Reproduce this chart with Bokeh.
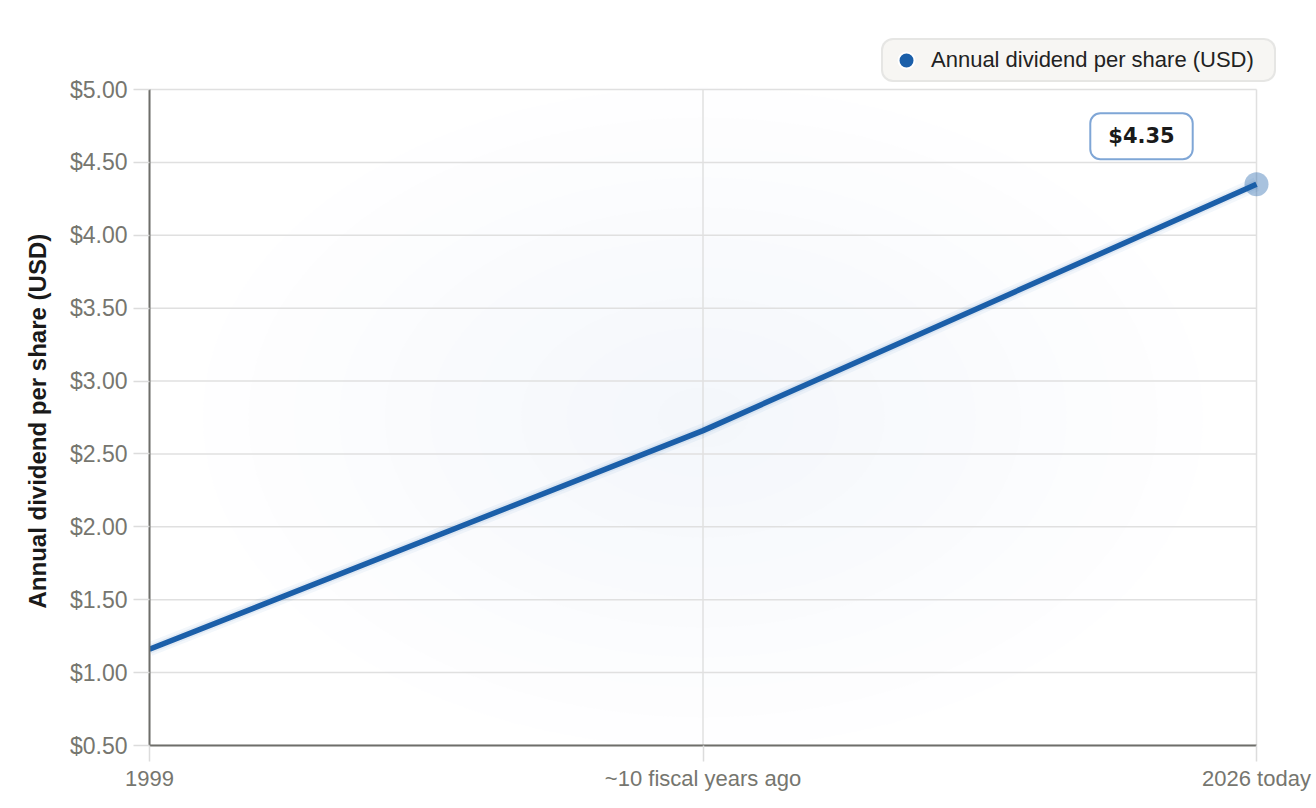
from bokeh.plotting import figure
from bokeh.models import (Range1d, FixedTicker, NumeralTickFormatter, Label,
                          Legend, LegendItem, ColumnDataSource, Title)
from bokeh.embed import file_html
from bokeh.resources import INLINE

# ---- data ----
categories = ["1999", "~10 fiscal years ago", "2026 today"]
dividends = [1.16, 2.66, 4.35]
y_ticks = [0.5, 1.0, 1.5, 2.0, 2.5, 3.0, 3.5, 4.0, 4.5, 5.0]
series_name = "Annual dividend per share (USD)"

LINE = "#1b5fa9"
FONT = "Liberation Sans"
GRID = "#e0e0e0"
# background tint rings (outer to inner), each darkens by at most one level
TINT = ["#cdcdff", "#cdcdcd", "#cdffff", "#cdcdff", "#cdcdcd", "#cdcdff",
        "#cdffff", "#cdcdcd", "#cdcdff", "#cdffff", "#cdcdcd"]

# ---- layout (pixels) ----
W, H = 1316, 808
PLOT_L, PLOT_R, PLOT_T, PLOT_B = 149, 1256, 89, 745     # data area
FRAME_R, FRAME_T = 1300, 30                               # frame incl. legend room

xs = list(range(len(categories)))
src = ColumnDataSource(dict(x=xs, y=dividends))

x0, x1 = xs[0], xs[-1]
y0, y1 = y_ticks[0], y_ticks[-1]
x_end = x1 + (x1 - x0) * (FRAME_R - PLOT_R) / (PLOT_R - PLOT_L)
y_end = y1 + (y1 - y0) * (PLOT_T - FRAME_T) / (PLOT_B - PLOT_T)

p = figure(width=W, height=H, output_backend="svg", toolbar_location=None,
           x_range=Range1d(x0, x_end), y_range=Range1d(y0, y_end),
           min_border_left=PLOT_L, min_border_right=W - FRAME_R,
           min_border_top=FRAME_T, min_border_bottom=H - PLOT_B)
p.outline_line_color = None
p.background_fill_color = "white"
p.border_fill_color = "white"
p.xgrid.visible = False
p.ygrid.visible = False

# soft radial tint in the middle of the plot
cx = (x0 + x1) / 2
cy = (y0 + y1) / 2
n_rings = len(TINT)
for i, col in enumerate(TINT):
    f = 1 - i / n_rings
    p.ellipse(x=cx, y=cy, width=1000 * f, height=660 * f,
              width_units="screen", height_units="screen",
              fill_color=col, fill_alpha=0.02, line_color=None)

# grid lines limited to the data area
p.segment(x0=[x0] * len(y_ticks), y0=y_ticks, x1=[x1] * len(y_ticks), y1=y_ticks,
          line_color=GRID, line_width=1.5)
p.segment(x0=xs, y0=[y0] * len(xs), x1=xs, y1=[y1] * len(xs),
          line_color=GRID, line_width=1.5)

# axes
p.xaxis.ticker = FixedTicker(ticks=xs)
p.xaxis.major_label_overrides = {i: c for i, c in zip(xs, categories)}
p.xaxis.bounds = (x0, x1)
p.yaxis.ticker = FixedTicker(ticks=y_ticks)
p.yaxis.formatter = NumeralTickFormatter(format="$0.00")
p.yaxis.bounds = (y0, y1)
for ax in (p.xaxis[0], p.yaxis[0]):
    ax.axis_line_color = "#6e6e6a"
    ax.axis_line_width = 2
    ax.major_tick_line_color = "#dcdcdc"
    ax.major_tick_line_width = 1.5
    ax.major_tick_out = 16
    ax.major_tick_in = 0
    ax.minor_tick_line_color = None
    ax.major_label_text_font = FONT
    ax.major_label_text_font_size = "22px"
    ax.major_label_text_color = "#76766f"
p.yaxis.major_label_text_font_size = "23px"
p.yaxis.major_label_standoff = 6
p.xaxis.major_label_standoff = 4

# y-axis title, placed along the data area
ytitle = Title(text=series_name, align="left", vertical_align="middle",
               offset=137, text_font=FONT, text_font_size="24px",
               text_font_style="bold", text_color="#1a1a1a")
if "standoff" in Title.properties():
    ytitle.standoff = 30
p.add_layout(ytitle, "left")

# line with soft glow
p.line("x", "y", source=src, line_color=LINE, line_width=14, line_alpha=0.05)
p.line("x", "y", source=src, line_color=LINE, line_width=9, line_alpha=0.08)
p.line("x", "y", source=src, line_color=LINE, line_width=5.5)

# highlighted last point
p.scatter(x=[xs[-1]], y=[dividends[-1]], size=24, fill_color=LINE,
          fill_alpha=0.38, line_color=None)

# value callout
lbl = Label(x=xs[-1], y=dividends[-1], x_offset=-115, y_offset=48,
            text=f"${dividends[-1]:.2f}", text_font="DejaVu Sans",
            text_font_style="bold", text_font_size="21px", text_color="#1a1a1a",
            text_align="center", text_baseline="middle",
            background_fill_color="white", border_line_color="#7fa6d6",
            border_line_width=2, border_radius=10, padding=(18, 11))
p.add_layout(lbl)

# legend (marker-only renderer with no drawable position)
nan = float("nan")
dummy = p.scatter(x=[nan], y=[nan], fill_color=LINE, line_color="white",
                  line_width=2)
legend = Legend(items=[LegendItem(label=series_name, renderers=[dummy])],
                location=(881 - PLOT_L, PLOT_B - 82), orientation="horizontal",
                padding=0, margin=0, glyph_width=46, glyph_height=40,
                label_standoff=2, label_width=343, label_height=40,
                label_text_font=FONT, label_text_font_size="22px",
                label_text_color="#222222",
                background_fill_color="#f7f6f3", background_fill_alpha=1,
                border_line_color="#d6d6d6", border_line_width=2)
if "border_radius" in Legend.properties():
    legend.border_radius = 12
p.add_layout(legend, "center")

open("out.html", "w").write(file_html(p, INLINE))
